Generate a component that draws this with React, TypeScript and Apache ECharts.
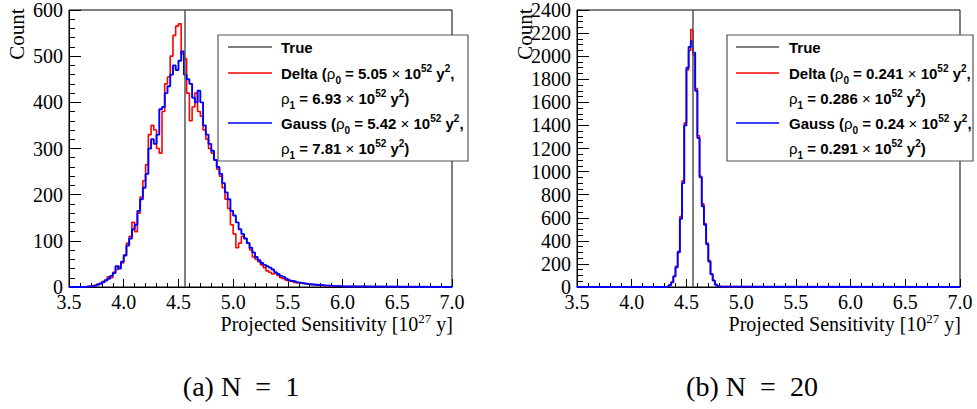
import React, { useEffect, useRef } from "react";
import * as echarts from "echarts";

// ---------- data ----------
const X_MIN = 3.5;
const X_MAX = 7.0;
const TRUE_VALUE = 4.56;

// N = 1 histograms (bin width 0.025, first bin edge 3.65)
const N1_START = 3.65;
const N1_BIN = 0.025;
const deltaN1 = [
  1, 2, 3, 4, 6, 8, 12, 15, 22, 20, 32, 38, 45, 52, 70, 95, 110, 140, 120, 160,
  195, 230, 265, 330, 350, 340, 300, 290, 380, 440, 455, 500, 545, 565, 570, 505,
  495, 420, 360, 390, 420, 380, 370, 340, 320, 300, 290, 275, 255, 240, 215, 190,
  170, 135, 115, 85, 95, 110, 105, 95, 80, 65, 60, 55, 48, 42, 35, 32, 28, 30, 25,
  20, 18, 15, 13, 12, 10, 9, 8, 7, 7, 6, 5, 5, 4, 4, 3, 3, 3, 2, 2, 2, 2, 1, 1, 1,
  1, 1, 1,
];
const gaussN1 = [
  1, 1, 2, 3, 5, 7, 10, 14, 18, 24, 30, 45, 40, 55, 68, 90, 105, 125, 135, 165,
  190, 215, 245, 300, 320, 310, 330, 385, 390, 420, 435, 460, 480, 470, 490, 510,
  460, 450, 440, 410, 400, 425, 400, 350, 330, 310, 295, 275, 260, 245, 225, 205,
  190, 165, 155, 140, 125, 115, 105, 95, 85, 75, 65, 58, 52, 48, 45, 42, 38, 32, 28,
  24, 22, 18, 15, 13, 12, 10, 9, 8, 7, 6, 6, 5, 5, 4, 4, 3, 3, 3, 2, 2, 2, 2, 1, 1,
  1, 1, 1, 1,
];

// N = 20 histograms (bin width 0.02, first bin edge 4.30)
const N20_START = 4.3;
const N20_BIN = 0.02;
const deltaN20 = [
  1, 6, 17, 42, 95, 180, 310, 610, 920, 1420, 1880, 2050, 2230, 2010, 1720, 1310,
  960, 720, 550, 380, 230, 115, 58, 22, 9, 3,
];
const gaussN20 = [
  1, 5, 15, 40, 90, 170, 300, 590, 900, 1400, 1900, 2080, 2130, 2030, 1700, 1290,
  950, 700, 540, 370, 220, 110, 55, 20, 8, 3,
];

const Y_MAX_N1 = 600;
const Y_STEP_N1 = 100;
const Y_MAX_N20 = 2400;
const Y_STEP_N20 = 200;

const LEGEND_N1 = {
  delta0: "5.05",
  delta1: "6.93",
  gauss0: "5.42",
  gauss1: "7.81",
};
const LEGEND_N20 = {
  delta0: "0.241",
  delta1: "0.286",
  gauss0: "0.24",
  gauss1: "0.291",
};

const CAPTION_A = { label: "(a) N", value: "1" };
const CAPTION_B = { label: "(b) N", value: "20" };

// ---------- helpers ----------
function histPoints(start: number, bin: number, counts: number[]) {
  const pts: number[][] = [[X_MIN, 0]];
  counts.forEach((c, i) => pts.push([+(start + i * bin).toFixed(4), c]));
  pts.push([+(start + counts.length * bin).toFixed(4), 0]);
  pts.push([X_MAX, 0]);
  return pts;
}

const SERIF = "Liberation Serif";
const SANS = "Liberation Sans";

function xAxis(gridIndex: number) {
  return {
    type: "value",
    gridIndex,
    min: X_MIN,
    max: X_MAX,
    interval: 0.5,
    axisLine: { show: true, onZero: false, lineStyle: { color: "#000", width: 1 } },
    axisTick: { show: true, inside: true, length: 8, lineStyle: { color: "#000" } },
    minorTick: { show: true, splitNumber: 5, length: 4, lineStyle: { color: "#000" } },
    splitLine: { show: false },
    axisLabel: {
      fontFamily: SERIF,
      fontSize: 20,
      color: "#000",
      margin: 5,
      formatter: (v: number) => v.toFixed(1),
    },
  };
}

function yAxis(gridIndex: number, max: number, step: number, minorSplit: number) {
  return {
    type: "value",
    gridIndex,
    min: 0,
    max,
    interval: step,
    axisLine: { show: true, lineStyle: { color: "#000", width: 1 } },
    axisTick: { show: true, inside: true, length: 12, lineStyle: { color: "#000" } },
    minorTick: { show: true, splitNumber: minorSplit, length: 6, lineStyle: { color: "#000" } },
    splitLine: { show: false },
    axisLabel: {
      fontFamily: SERIF,
      fontSize: 20,
      color: "#000",
      margin: 6,
      formatter: (v: number) => String(Math.round(v)),
    },
  };
}

const richBase = {
  b: { fontFamily: SANS, fontWeight: "bold", fontSize: 15, color: "#000", lineHeight: 24, verticalAlign: "middle" },
  n: { fontFamily: SANS, fontWeight: "normal", fontSize: 15, color: "#000", lineHeight: 24, verticalAlign: "middle" },
  sub: { fontFamily: SANS, fontWeight: "bold", fontSize: 10, color: "#000", lineHeight: 24, verticalAlign: "bottom" },
  sup: { fontFamily: SANS, fontWeight: "bold", fontSize: 10, color: "#000", lineHeight: 24, verticalAlign: "top", padding: [2, 0, 0, 0] },
};

function legendGraphics(
  boxX: number,
  boxW: number,
  lineX0: number,
  lineX1: number,
  textX: number,
  vals: { delta0: string; delta1: string; gauss0: string; gauss1: string }
) {
  const rows = [47, 73, 98, 123, 148];
  const els: any[] = [
    {
      type: "rect",
      z: 100,
      shape: { x: boxX, y: 35, width: boxW, height: 126 },
      style: { fill: "#fff", stroke: "#555", lineWidth: 1.2 },
    },
    { type: "line", z: 101, shape: { x1: lineX0, y1: rows[0], x2: lineX1, y2: rows[0] }, style: { stroke: "#000", lineWidth: 1 } },
    { type: "line", z: 101, shape: { x1: lineX0, y1: rows[1], x2: lineX1, y2: rows[1] }, style: { stroke: "#ff0000", lineWidth: 1.5 } },
    { type: "line", z: 101, shape: { x1: lineX0, y1: rows[3], x2: lineX1, y2: rows[3] }, style: { stroke: "#0000ff", lineWidth: 1.5 } },
  ];
  const texts = [
    "{b|True}",
    `{b|Delta (}{n|ρ}{sub|0}{b| = ${vals.delta0} }{n|×}{b| 10}{sup|52}{b| y}{sup|2}{b|,}`,
    `{n|ρ}{sub|1}{b| = ${vals.delta1} }{n|×}{b| 10}{sup|52}{b| y}{sup|2}{b|)}`,
    `{b|Gauss (}{n|ρ}{sub|0}{b| = ${vals.gauss0} }{n|×}{b| 10}{sup|52}{b| y}{sup|2}{b|,}`,
    `{n|ρ}{sub|1}{b| = ${vals.gauss1} }{n|×}{b| 10}{sup|52}{b| y}{sup|2}{b|)}`,
  ];
  texts.forEach((t, i) => {
    els.push({
      type: "text",
      z: 101,
      x: textX,
      y: rows[i],
      style: {
        text: t,
        rich: richBase,
        textAlign: "left",
        textVerticalAlign: "middle",
      },
    });
  });
  return els;
}

function axisTitles(countX: number, titleRight: number) {
  return [
    {
      type: "text",
      x: countX,
      y: 34,
      rotation: Math.PI / 2,
      style: {
        text: "Count",
        fontFamily: SERIF,
        fontSize: 21,
        fill: "#000",
        textAlign: "center",
        textVerticalAlign: "middle",
      },
    },
    {
      type: "text",
      x: titleRight,
      y: 324,
      style: {
        text: "{t|Projected Sensitivity [10}{s|27}{t| y]}",
        textAlign: "right",
        textVerticalAlign: "middle",
        rich: {
          t: { fontFamily: SERIF, fontSize: 20, color: "#000", lineHeight: 26, verticalAlign: "middle" },
          s: { fontFamily: SERIF, fontSize: 13, color: "#000", lineHeight: 26, verticalAlign: "top", padding: [1, 0, 0, 0] },
        },
      },
    },
  ];
}

function caption(x: number, c: { label: string; value: string }) {
  return {
    type: "text",
    x,
    y: 386,
    style: {
      text: `{t|${c.label} }{e|=}{t| ${c.value}}`,
      textAlign: "center",
      textVerticalAlign: "middle",
      rich: {
        t: { fontFamily: SERIF, fontSize: 28, color: "#000", lineHeight: 34 },
        e: { fontFamily: SERIF, fontSize: 28, color: "#000", lineHeight: 34, width: 30, align: "center" },
      },
    },
  };
}

export default function App() {
  const ref = useRef<HTMLDivElement>(null);

  useEffect(() => {
    if (!ref.current) return;
    const chart = echarts.init(ref.current, undefined, { renderer: "svg" });

    const lineSeries = (name: string, xi: number, data: number[][], color: string, width: number, z: number, step: any) => ({
      name,
      type: "line",
      xAxisIndex: xi,
      yAxisIndex: xi,
      data,
      step,
      symbol: "none",
      z,
      lineStyle: { color, width },
      itemStyle: { color },
    });

    const option: any = {
      animation: false,
      backgroundColor: "#fff",
      grid: [
        { left: 69, top: 10, width: 383, height: 277, show: true, borderColor: "#000", borderWidth: 1, backgroundColor: "transparent" },
        { left: 577, top: 10, width: 383, height: 277, show: true, borderColor: "#000", borderWidth: 1, backgroundColor: "transparent" },
      ],
      xAxis: [xAxis(0), xAxis(1)],
      yAxis: [yAxis(0, Y_MAX_N1, Y_STEP_N1, 5), yAxis(1, Y_MAX_N20, Y_STEP_N20, 4)],
      series: [
        lineSeries("Delta", 0, histPoints(N1_START, N1_BIN, deltaN1), "#ff0000", 1.6, 3, "end"),
        lineSeries("Gauss", 0, histPoints(N1_START, N1_BIN, gaussN1), "#0000ff", 1.9, 4, "end"),
        lineSeries("True", 0, [[TRUE_VALUE, 0], [TRUE_VALUE, Y_MAX_N1]], "#555555", 1.5, 5, false),
        lineSeries("Delta", 1, histPoints(N20_START, N20_BIN, deltaN20), "#ff0000", 1.6, 3, "end"),
        lineSeries("Gauss", 1, histPoints(N20_START, N20_BIN, gaussN20), "#0000ff", 1.9, 4, "end"),
        lineSeries("True", 1, [[TRUE_VALUE, 0], [TRUE_VALUE, Y_MAX_N20]], "#555555", 1.5, 5, false),
      ],
      graphic: [
        ...legendGraphics(218, 250, 228, 272, 281, LEGEND_N1),
        ...legendGraphics(727, 246, 736, 779, 789, LEGEND_N20),
        ...axisTitles(17, 453),
        ...axisTitles(525, 961),
        caption(241, CAPTION_A),
        caption(752, CAPTION_B),
      ],
    };

    chart.setOption(option);
    return () => chart.dispose();
  }, []);

  return (
    <div
      ref={ref}
      style={{ position: "fixed", left: 0, top: 0, width: 977, height: 409, background: "#fff" }}
    />
  );
}
